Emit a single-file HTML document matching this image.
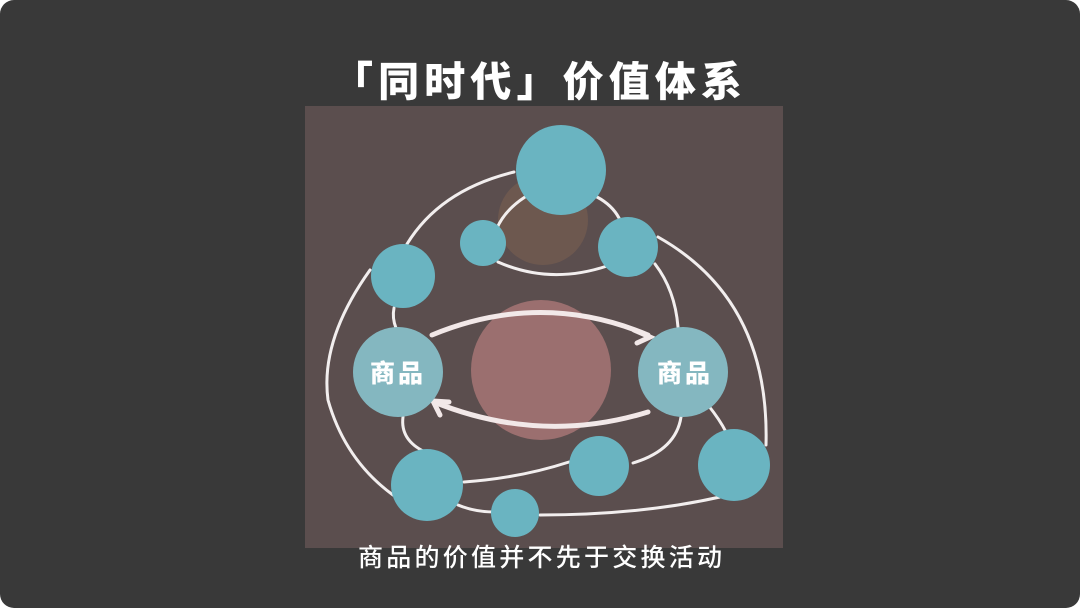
<!DOCTYPE html>
<html><head><meta charset="utf-8"><style>
html,body{margin:0;padding:0;background:#fff;}
.wrap{width:1080px;height:608px;background:#393939;border-radius:14px;position:relative;overflow:hidden;}
svg{position:absolute;left:0;top:0}
</style></head><body><div class="wrap">
<svg width="1080" height="608" viewBox="0 0 1080 608">
<text x="537" y="96" text-anchor="middle" font-family="'Liberation Sans','Noto Sans CJK SC',sans-serif" font-weight="900" font-size="41" fill="#fff" textLength="410" lengthAdjust="spacing">「同时代」价值体系</text>
<rect x="305" y="106" width="478" height="442" fill="#5b4e4e"/>
<circle cx="541" cy="370" r="70" fill="#9b6f6f"/>
<circle cx="543" cy="220" r="45" fill="#7a5f50" opacity="0.6"/>
<g fill="none" stroke="#f2eeee" stroke-width="3" stroke-linecap="round">
<path d="M514,172 Q440,190 407,244"/>
<path d="M370,270 Q320,340 328,400 Q345,460 393,495"/>
<path d="M458,505 Q475,512 494,512"/>
<path d="M540,515 Q640,515 720,497"/>
<path d="M766,445 Q770,300 658,237"/>
<path d="M597,197 Q612,205 619,218"/>
<path d="M525,197 Q505,210 497,228"/>
<path d="M498,262 Q550,285 607,266"/>
<path d="M655,264 Q675,290 678,327"/>
<path d="M394,308 Q392,318 396,328"/>
<path d="M403,417 Q400,440 425,452"/>
<path d="M464,482 Q520,478 569,462"/>
<path d="M633,463 Q676,450 681,417"/>
<path d="M708,405 Q720,420 726,432"/>
</g>
<g fill="none" stroke="#f2e8e8" stroke-width="5" stroke-linecap="round">
<path d="M432,335 Q541,290 648,335"/>
<path d="M634,330 L650,337 L637,343"/>
<path d="M648,412 Q541,445 434,402"/>
<path d="M449,402 L433,401 L440,415"/>
</g>
<g fill="#6ab4c1">
<circle cx="561" cy="170" r="45"/>
<circle cx="483" cy="243" r="23"/>
<circle cx="628" cy="247" r="30"/>
<circle cx="403" cy="276" r="32"/>
<circle cx="427" cy="485" r="36"/>
<circle cx="599" cy="466" r="30"/>
<circle cx="734" cy="465" r="36"/>
<circle cx="515" cy="513" r="24"/>
</g>
<g fill="#84b7c0">
<circle cx="398" cy="372" r="45"/>
<circle cx="683" cy="372" r="45"/>
</g>
<g font-family="'Liberation Sans','Noto Sans CJK SC',sans-serif" font-weight="900" font-size="25" fill="#fff" text-anchor="middle">
<text x="398" y="382" letter-spacing="3">商品</text>
<text x="685" y="382" letter-spacing="3">商品</text>
</g>
<text x="540" y="566" text-anchor="middle" font-family="'Noto Sans CJK SC',sans-serif" font-weight="500" font-size="25" fill="#fff" textLength="364" lengthAdjust="spacing">商品的价值并不先于交换活动</text>
</svg>
</div></body></html>
